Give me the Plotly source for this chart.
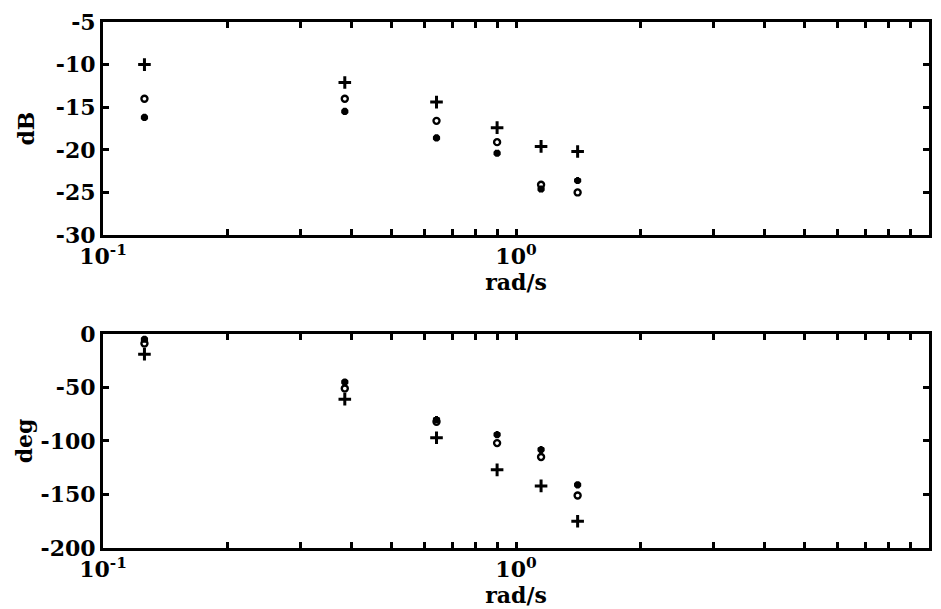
import plotly.graph_objects as go
from plotly.subplots import make_subplots

freq = [0.126, 0.385, 0.642, 0.90, 1.15, 1.41]

mag_plus = [-10.0, -12.1, -14.4, -17.4, -19.6, -20.2]
mag_circle = [-14.0, -14.0, -16.6, -19.1, -24.1, -25.0]
mag_star = [-16.2, -15.5, -18.6, -20.4, -24.6, -23.6]

ph_plus = [-19, -61, -97, -127, -142, -175]
ph_circle = [-9, -51, -82, -102, -115, -151]
ph_star = [-5, -45, -80, -94, -108, -141]

# x ticks: every 1..9 x decade; labels only at decades
xtick_vals = [m * 10.0 ** e for e in (-1, 0) for m in range(1, 10)] + [10.0]
decade_text = {0.1: "10<sup>-1</sup>", 1.0: "10<sup>0</sup>", 10.0: "10<sup>1</sup>"}
xtick_text = ["<b>%s</b>" % decade_text[v] if v in decade_text else "" for v in
              [round(v, 6) for v in xtick_vals]]

mag_ticks = [-5, -10, -15, -20, -25, -30]
ph_ticks = [0, -50, -100, -150, -200]

FONT = "DejaVu Serif"

fig = make_subplots(rows=2, cols=1, vertical_spacing=0.0)

def add_series(row, x, ys):
    specs = [
        ("cross-thin", 9, 3),
        ("circle-open", 6, 2.4),
        ("asterisk-open", 6, 3),
    ]
    for y, (sym, size, lw) in zip(ys, specs):
        fig.add_trace(go.Scatter(
            x=x, y=y, mode="markers",
            marker=dict(symbol=sym, size=size, color="black",
                        line=dict(color="black", width=lw)),
            showlegend=False), row=row, col=1)

add_series(1, freq, [mag_plus, mag_circle, mag_star])
add_series(2, freq, [ph_plus, ph_circle, ph_star])

axis_common = dict(
    showline=True, linecolor="black", linewidth=3, mirror="ticks",
    ticks="inside", ticklen=6, tickwidth=2.5, tickcolor="black",
    showgrid=False, zeroline=False,
    tickfont=dict(family=FONT, size=22, color="black"),
)

title_font = dict(family=FONT, size=22, color="black")

for r in (1, 2):
    fig.update_xaxes(
        type="log", range=[-1, 1],
        tickmode="array", tickvals=xtick_vals, ticktext=xtick_text,
        title=dict(text="<b>rad/s</b>", font=title_font, standoff=2),
        **axis_common, row=r, col=1)

fig.update_yaxes(range=[-30, -5], tickvals=mag_ticks,
                 ticktext=["<b>%d</b>" % v for v in mag_ticks],
                 title=dict(text="<b>dB</b>", font=title_font, standoff=16),
                 **axis_common, row=1, col=1)
fig.update_yaxes(range=[-200, 0], tickvals=ph_ticks,
                 ticktext=["<b>%d</b>" % v for v in ph_ticks],
                 title=dict(text="<b>deg</b>", font=title_font, standoff=2),
                 **axis_common, row=2, col=1)

fig.update_layout(
    width=941, height=609,
    margin=dict(l=103, r=9, t=17, b=61),
    plot_bgcolor="white", paper_bgcolor="white",
    font=dict(family=FONT, color="black"),
    yaxis=dict(domain=[0.595, 1.0]),
    yaxis2=dict(domain=[0.0, 0.407]),
)

fig.write_html("out.html")
